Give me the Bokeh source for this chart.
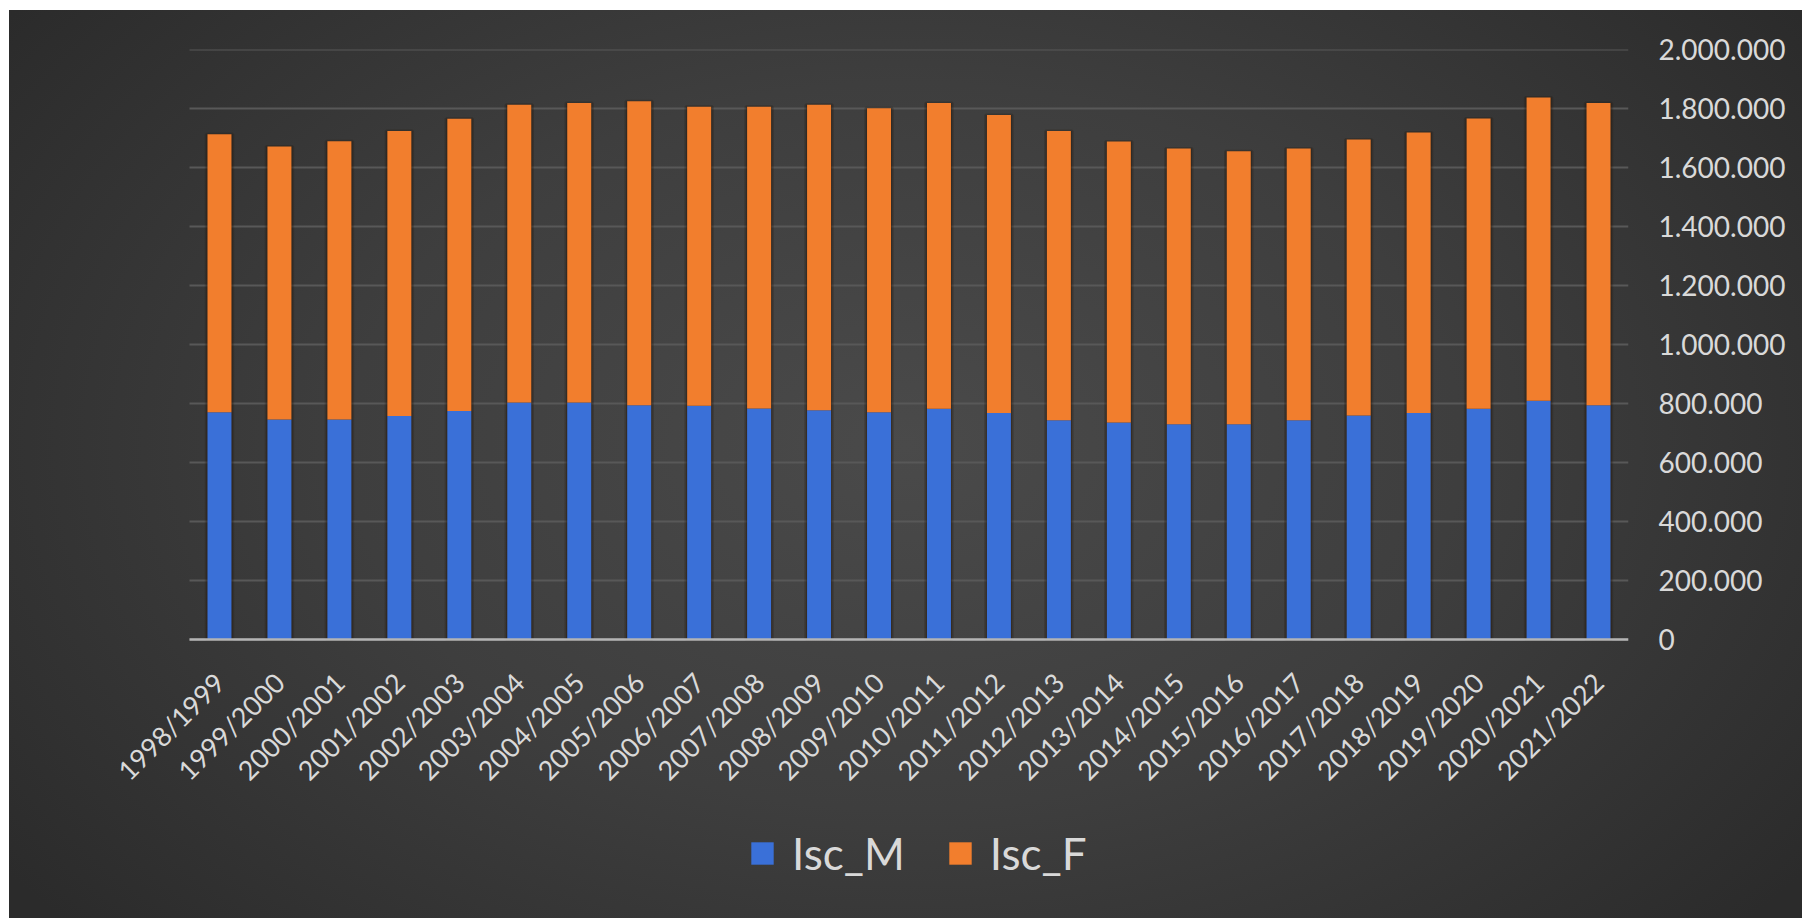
from math import pi

from bokeh.embed import file_html
from bokeh.models import (ColumnDataSource, FixedTicker, Legend, LegendItem,
                          Range1d)
from bokeh.plotting import figure
from bokeh.resources import INLINE

# Academic years
categories = [
    "1998/1999", "1999/2000", "2000/2001", "2001/2002", "2002/2003",
    "2003/2004", "2004/2005", "2005/2006", "2006/2007", "2007/2008",
    "2008/2009", "2009/2010", "2010/2011", "2011/2012", "2012/2013",
    "2013/2014", "2014/2015", "2015/2016", "2016/2017", "2017/2018",
    "2018/2019", "2019/2020", "2020/2021", "2021/2022",
]

# Enrolled students, male
isc_m = [
    770000, 746000, 746000, 758000, 775000, 803000, 803000, 794000,
    792000, 783000, 777000, 770000, 782000, 768000, 743000, 736000,
    730000, 730000, 743000, 759000, 768000, 782000, 809000, 794000,
]

# Enrolled students, female
isc_f = [
    943000, 925000, 943000, 966000, 990000, 1010000, 1016000, 1031000,
    1014000, 1023000, 1036000, 1031000, 1037000, 1010000, 981000, 952000,
    934000, 925000, 921000, 936000, 951000, 984000, 1028000, 1025000,
]

series_names = ["Isc_M", "Isc_F"]

y_ticks = [0, 200000, 400000, 600000, 800000, 1000000,
           1200000, 1400000, 1600000, 1800000, 2000000]
y_tick_labels = ["0", "200.000", "400.000", "600.000", "800.000", "1.000.000",
                 "1.200.000", "1.400.000", "1.600.000", "1.800.000", "2.000.000"]

BLUE = "#3a70d8"
ORANGE = "#f27e2d"
TEXT = "#d9d9d9"
GRID = "#585858"
FONT = "Lato"

n = len(categories)
slots = list(range(n))

# Plot area geometry (px). The frame reaches further left and further down
# than the gridded area so the slanted year labels and the legend fit in it.
PLOT_W = 1439
PLOT_H = 590
LEFT_EXTRA = 169
FRAME_W = PLOT_W + LEFT_EXTRA
FRAME_H = 861
SLOT_PX = PLOT_W / n
X_END = n - 0.5
X_START = -0.5 - LEFT_EXTRA / SLOT_PX
Y_MAX = 2000000
Y_MIN = -Y_MAX * (FRAME_H - PLOT_H) / PLOT_H

source = ColumnDataSource(dict(
    slot=slots,
    Isc_M=isc_m,
    Isc_F=isc_f,
    total=[m + f for m, f in zip(isc_m, isc_f)],
))

p = figure(
    x_range=Range1d(X_START, X_END),
    y_range=Range1d(Y_MIN, Y_MAX),
    frame_width=FRAME_W, frame_height=FRAME_H,
    output_backend="svg",
    toolbar_location=None,
    y_axis_location="right",
    min_border_left=11, min_border_right=174,
    min_border_top=39, min_border_bottom=8,
)
p.margin = (10, 0, 0, 9)
p.styles = {
    "background": "radial-gradient(ellipse 62% 80% at 50% 48%, "
                  "#4a4a4a 0%, #3e3e3e 50%, #2b2b2b 100%)",
}
p.border_fill_alpha = 0
p.background_fill_alpha = 0
p.outline_line_color = None
p.xgrid.visible = False
p.ygrid.visible = False

# horizontal gridlines across the category slots only
p.segment(x0=-0.5, x1=X_END, y0=y_ticks, y1=y_ticks,
          line_color=GRID, line_width=2)

# soft dark halo behind each stacked column
p.vbar(x="slot", top="total", width=0.44, source=source,
       fill_color="#24160c", fill_alpha=0.35,
       line_color="#24160c", line_alpha=0.25, line_width=3)

bars = p.vbar_stack(series_names, x="slot", width=0.4, source=source,
                    color=[BLUE, ORANGE], line_width=0)

# value axis on the right
yax = p.yaxis[0]
yax.ticker = FixedTicker(ticks=y_ticks)
yax.major_label_overrides = dict(zip(y_ticks, y_tick_labels))
yax.axis_line_color = None
yax.major_tick_line_color = None
yax.minor_tick_line_color = None
yax.major_tick_out = 0
yax.major_tick_in = 0
yax.major_label_standoff = 30
yax.major_label_text_font = FONT
yax.major_label_text_font_size = "28px"
yax.major_label_text_color = TEXT

# category axis sits on the zero line
xax = p.xaxis[0]
xax.fixed_location = 0
xax.bounds = (-0.5, X_END)
xax.ticker = FixedTicker(ticks=slots)
xax.major_label_overrides = dict(zip(slots, categories))
xax.axis_line_color = "#b4b4b4"
xax.axis_line_width = 2.5
xax.major_tick_line_color = None
xax.minor_tick_line_color = None
xax.major_tick_out = 0
xax.major_tick_in = 0
xax.major_label_orientation = pi / 4
xax.major_label_standoff = 38
xax.major_label_text_font = FONT
xax.major_label_text_font_size = "27px"
xax.major_label_text_color = TEXT

legend = Legend(
    items=[LegendItem(label=name, renderers=[r]) for name, r in zip(series_names, bars)],
    orientation="horizontal",
    location=(728, 31),
    background_fill_alpha=0,
    border_line_color=None,
    label_text_font=FONT,
    label_text_font_size="44px",
    label_text_color=TEXT,
    glyph_width=28, glyph_height=28,
    label_standoff=16,
    spacing=41,
    padding=0,
    margin=0,
)
p.add_layout(legend)

with open("out.html", "w") as fh:
    fh.write(file_html(p, INLINE))
